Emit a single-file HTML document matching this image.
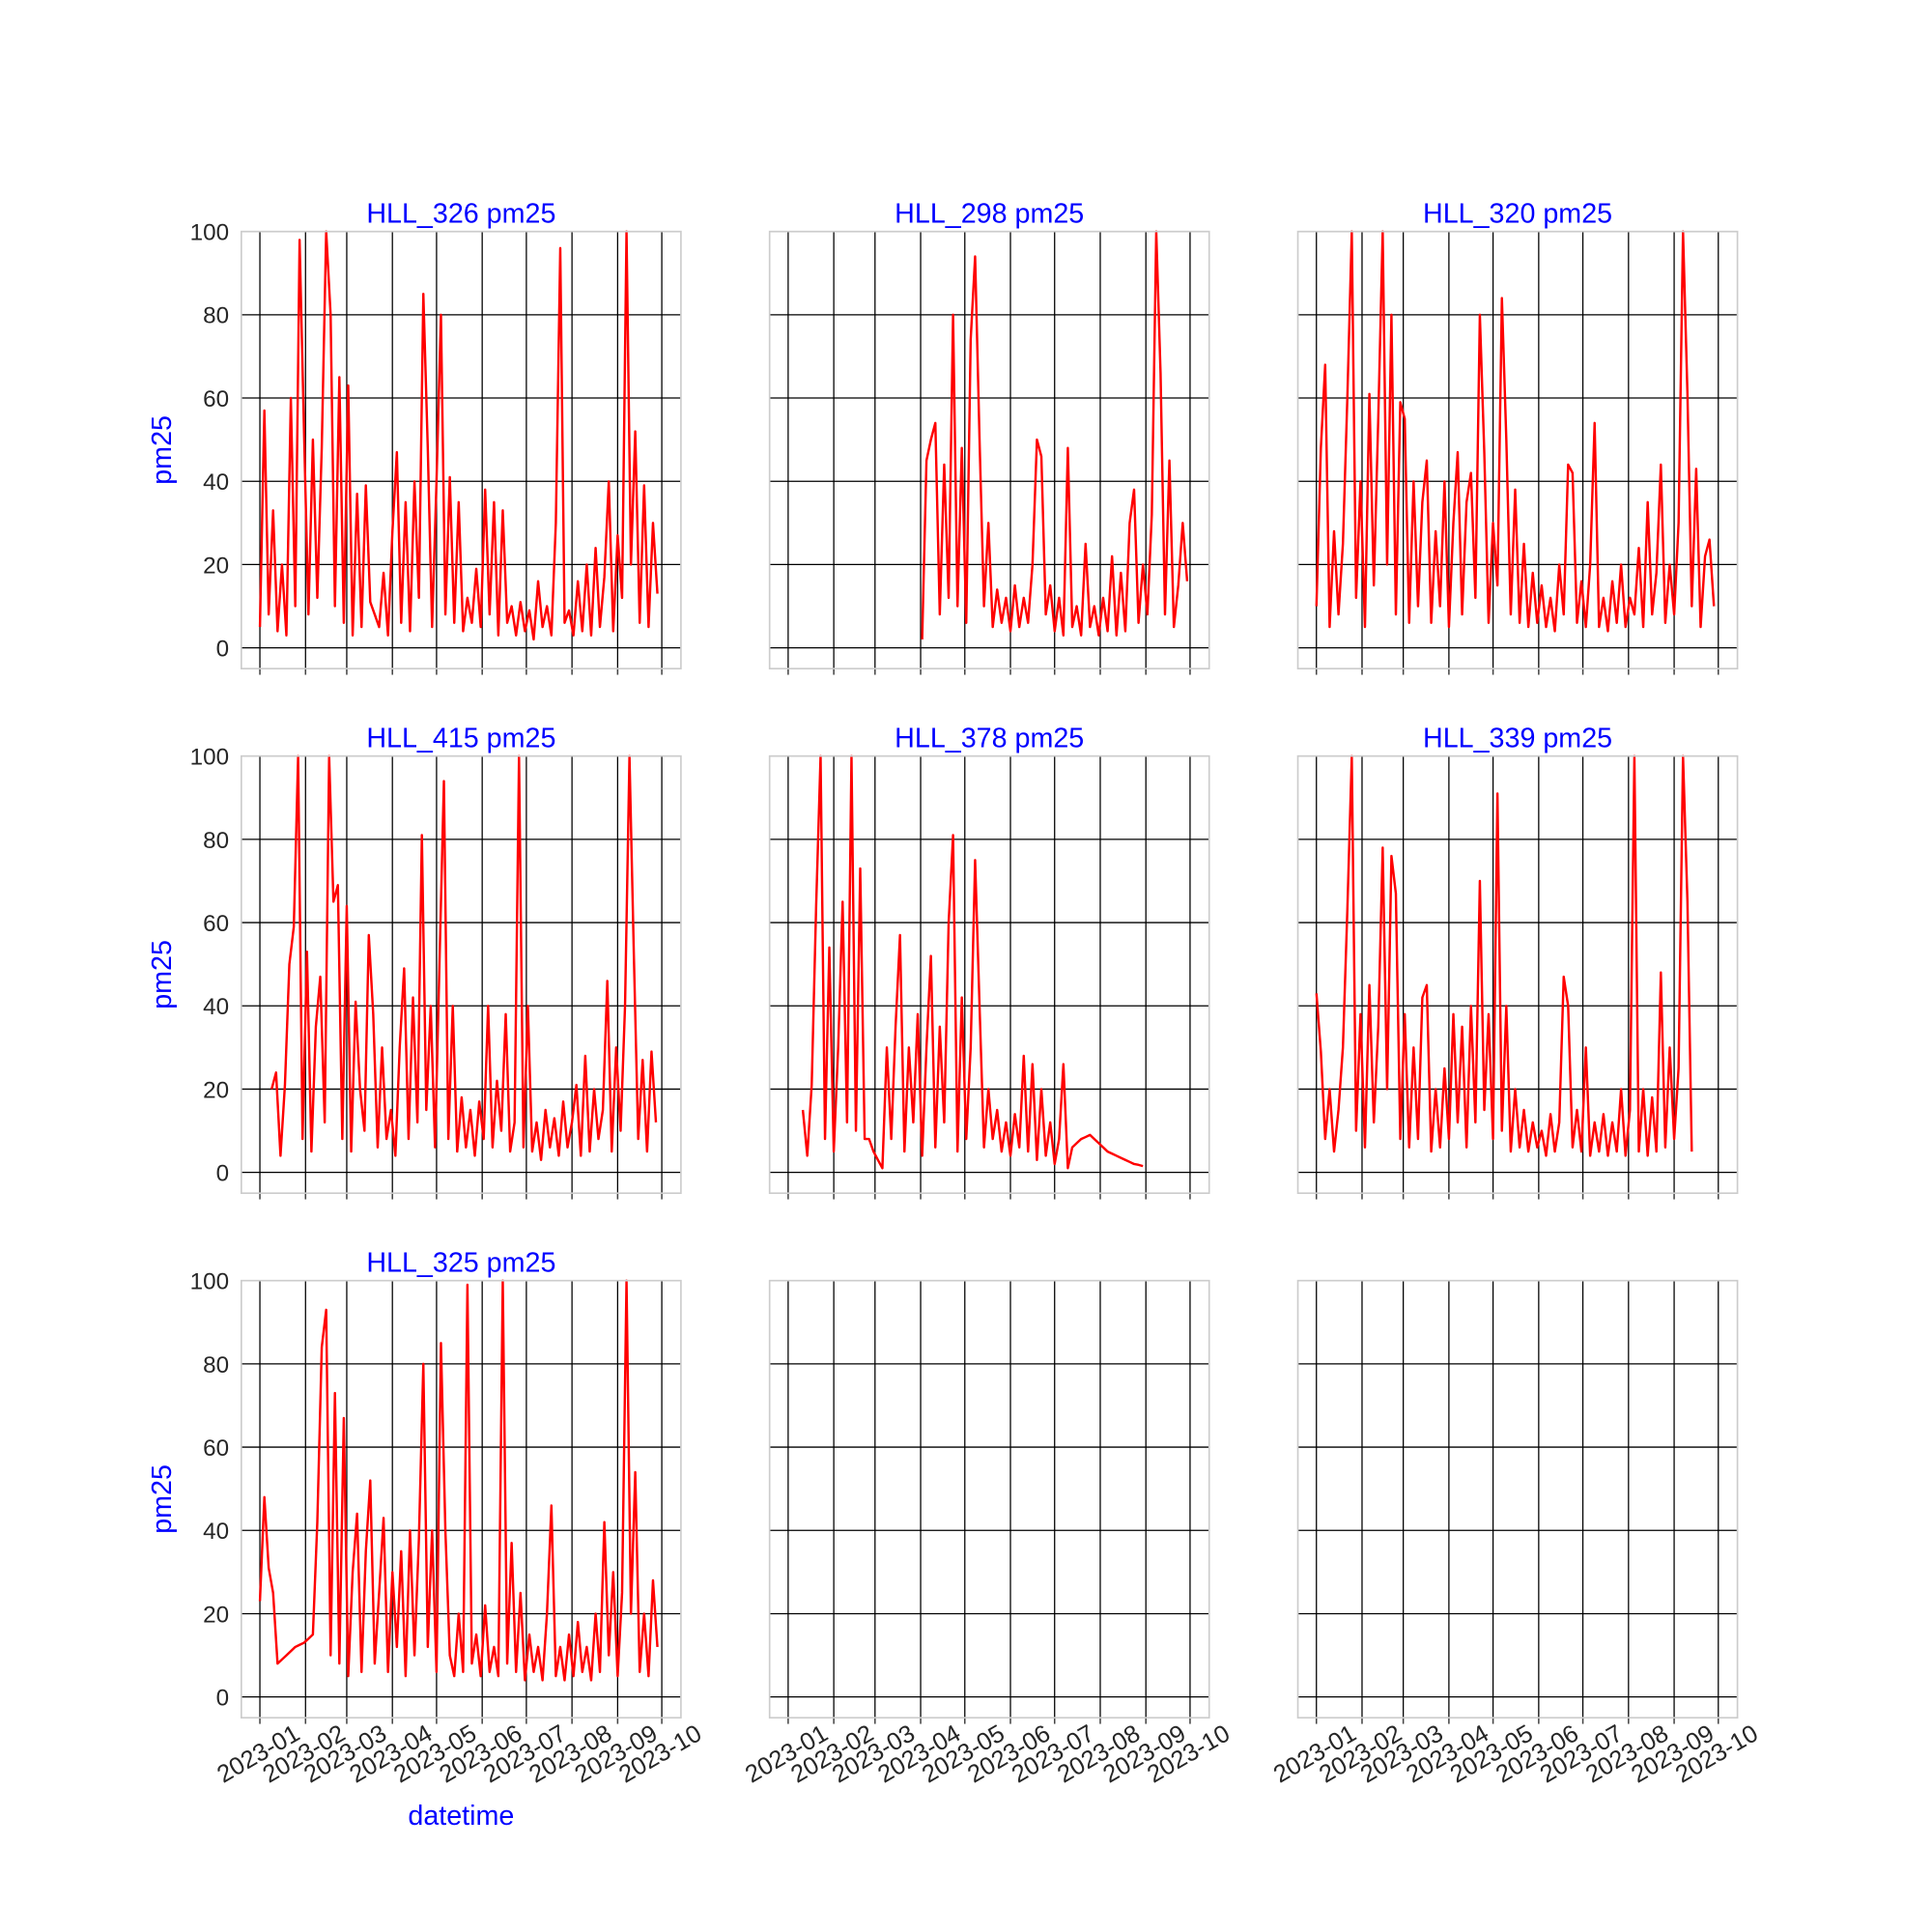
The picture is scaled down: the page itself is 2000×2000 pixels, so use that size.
<!DOCTYPE html>
<html><head><meta charset="utf-8">
<style>
html,body{margin:0;padding:0;background:#fff;}
svg{display:block;}
text{font-family:"Liberation Sans",Arial,sans-serif;}
</style></head>
<body>
<svg id="fig" width="2000" height="2000" viewBox="0 0 1569 1569" xmlns="http://www.w3.org/2000/svg"></svg>
<script>
// ---- data (day offset from 2023-01-01, sampled every 3 days) ----
const tickLabels = ["2023-01","2023-02","2023-03","2023-04","2023-05","2023-06","2023-07","2023-08","2023-09","2023-10"];
const tickDays = [0,31,59,90,120,151,181,212,243,273];
const yTicks = [0,20,40,60,80,100];
const titles = ["HLL_326 pm25","HLL_298 pm25","HLL_320 pm25","HLL_415 pm25","HLL_378 pm25","HLL_339 pm25","HLL_325 pm25"];
const starts = [0,91,0,8,10,0,0];
const stepDays = 3;
const s326 = [5,57,8,33,4,20,3,60,10,98,52,8,50,12,48,100,80,10,65,6,63,3,37,5,39,11,8,5,18,3,28,47,6,35,4,40,12,85,48,5,40,80,8,41,6,35,4,12,6,19,5,38,8,35,3,33,6,10,3,11,4,9,2,16,5,10,3,30,96,6,9,3,16,4,20,3,24,5,17,40,4,27,12,100,20,52,6,39,5,30,13];
const s298 = [2,45,50,54,8,44,12,80,10,48,6,74,94,50,10,30,5,14,6,12,4,15,5,12,6,20,50,46,8,15,4,12,3,48,5,10,3,25,5,10,3,12,4,22,3,18,4,30,38,6,20,8,32,100,66,8,45,5,15,30,16];
const s320 = [10,48,68,5,28,8,25,60,100,12,40,5,61,15,55,100,20,80,8,59,55,6,40,10,35,45,6,28,10,40,5,30,47,8,35,42,12,80,47,6,30,15,84,50,8,38,6,25,5,18,6,15,5,12,4,20,8,44,42,6,16,5,20,54,5,12,4,16,6,20,5,12,8,24,5,35,8,18,44,6,20,8,30,100,61,10,43,5,22,26,10];
const s415 = [20,24,4,21,50,59,100,8,53,5,35,47,12,100,65,69,8,64,5,41,20,10,57,38,6,30,8,15,4,30,49,8,42,12,81,15,40,6,50,94,8,40,5,18,6,15,4,17,8,40,6,22,10,38,5,12,100,6,40,5,12,3,15,6,13,4,17,6,12,21,4,28,5,20,8,15,46,5,30,10,40,100,53,8,27,5,29,12];
const s378 = [15,4,21,64,100,8,54,5,30,65,12,100,10,73,8,8,5,3,1,30,8,35,57,5,30,12,38,4,30,52,6,35,12,60,81,5,42,8,30,75,40,6,20,8,15,5,12,4,14,6,28,5,26,3,20,4,12,2,8,26,1,6,7,8,8.5,9,8,7,6,5,4.5,4,3.5,3,2.5,2,1.8,1.5];
const s339 = [43,29,8,20,5,15,30,63,100,10,38,6,45,12,35,78,20,76,67,8,38,6,30,8,42,45,5,20,6,25,8,38,12,35,6,40,12,70,15,38,8,91,10,40,5,20,6,15,5,12,6,10,4,14,5,12,47,40,6,15,5,30,4,12,5,14,4,12,5,20,4,15,100,5,20,4,18,5,48,6,30,8,25,100,65,5];
const s325 = [23,48,31,25,8,9,10,11,12,12.5,13,14,15,42,84,93,10,73,8,67,5,30,44,6,35,52,8,25,43,6,30,12,35,5,40,10,38,80,12,40,6,85,40,10,5,20,6,99,8,15,5,22,6,12,5,100,8,37,6,25,4,15,6,12,4,20,46,5,12,4,15,5,18,6,12,4,20,6,42,10,30,5,25,100,20,54,6,20,5,28,12];
const seriesList = [s326,s298,s320,s415,s378,s339,s325];

// ---- layout ----
const NS = "http://www.w3.org/2000/svg";
const svg = document.getElementById("fig");
const colX = [196,625,1054], rowY = [188,614,1040], W = 357, H = 355;
const xMin = -12.6, xMax = 286, yMin = -5, yMax = 100;
function mk(tag, attrs, parent){const e=document.createElementNS(NS,tag);for(const k in attrs)e.setAttribute(k,attrs[k]);(parent||svg).appendChild(e);return e;}

for(let p=0;p<9;p++){
  const r=Math.floor(p/3), c=p%3, x0=colX[c], y0=rowY[r];
  const sx=d=>x0+(d-xMin)/(xMax-xMin)*W;
  const sy=v=>y0+(yMax-v)/(yMax-yMin)*H;
  const g=mk("g",{});
  
  
  yTicks.forEach(v=>{const l=mk("line",{x1:x0,x2:x0+W,y1:sy(v),y2:sy(v),stroke:"#000","stroke-width":1},g);
    
    });
  tickDays.forEach(d=>{const l=mk("line",{x1:sx(d),x2:sx(d),y1:y0,y2:y0+H,stroke:"#000","stroke-width":1},g);
    
    
    const t=mk("line",{x1:sx(d),x2:sx(d),y1:y0+H,y2:y0+H+5,stroke:"#444","stroke-width":1.2},g);
    
    });
  if(p<7){
    const vals=seriesList[p];
    const pts=vals.map((v,i)=>sx(starts[p]+i*stepDays).toFixed(1)+","+sy(v).toFixed(1)).join(" ");
    const pl=mk("polyline",{points:pts,fill:"none",stroke:"#ff0000","stroke-width":1.9,"stroke-linejoin":"round"},g);
    
    
    const t=mk("text",{x:x0+W/2,y:y0-7,"text-anchor":"middle","font-size":22.5,fill:"#0000ff"},g);
    t.textContent=titles[p];
    
    
  }
  const fr=mk("rect",{x:x0,y:y0,width:W,height:H,fill:"none",stroke:"#cccccc","stroke-width":1.3},g);
  
  
  if(c===0){
    yTicks.forEach(v=>{const t=mk("text",{x:x0-10,y:sy(v)+7,"text-anchor":"end","font-size":19,fill:"#262626"},g);
      t.textContent=String(v);
      
      });
    const yl=mk("text",{x:0,y:0,"text-anchor":"middle","font-size":22.5,fill:"#0000ff",transform:"translate("+(x0-57)+","+(y0+H/2)+") rotate(-90)"},g);
    yl.textContent="pm25";
    
    
  }
  if(r===2){
    tickDays.forEach((d,i)=>{const cx=sx(d)+2, cy=y0+H+35;
      const t=mk("text",{x:0,y:0,"text-anchor":"middle","font-size":20,fill:"#262626",transform:"translate("+cx+","+cy+") rotate(-30)"},g);
      t.textContent=tickLabels[i];
      
      });
    if(c===0){
      const xl=mk("text",{x:x0+W/2,y:1482,"text-anchor":"middle","font-size":22.5,fill:"#0000ff"},g);
      xl.textContent="datetime";
      
      
    }
  }
}
</script>
</body></html>
